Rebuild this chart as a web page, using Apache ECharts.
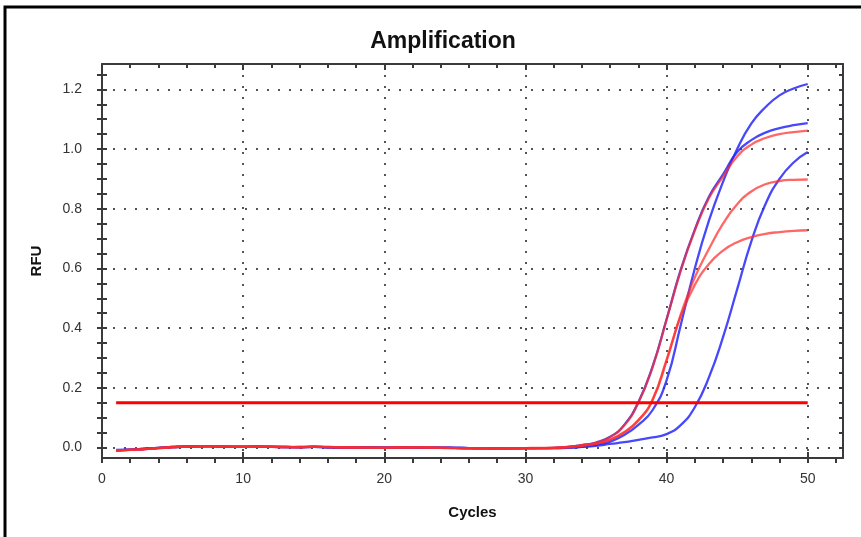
<!DOCTYPE html>
<html>
<head>
<meta charset="utf-8">
<script src="https://cdn.jsdelivr.net/npm/echarts@6/dist/echarts.min.js"></script>
<style>
html,body{margin:0;padding:0;background:#fff;}
#chart{width:861px;height:537px;}
</style>
</head>
<body>
<div id="chart"></div>
<script>
const cycles = [1,2,3,4,5,6,7,8,9,10,11,12,13,14,15,16,17,18,19,20,21,22,23,24,25,26,27,28,29,30,31,32,33,34,35,36,37,38,39,40,41,42,43,44,45,46,47,48,49,50];

const blueA = [-0.008,-0.007,-0.004,-0.001,0.002,0.003,0.005,0.004,0.003,0.003,0.003,0.002,0.002,0.001,0.002,0.001,0.001,0.000,0.000,0.000,0.001,0.000,-0.001,0.000,-0.001,-0.002,-0.002,-0.003,-0.003,-0.002,-0.002,-0.002,
  0.000,0.003,0.009,0.020,0.042,0.076,0.125,0.225,0.410,0.600,0.760,0.890,1.000,1.085,1.140,1.180,1.203,1.218];
const blueB = [-0.010,-0.008,-0.005,-0.002,0.002,0.004,0.004,0.005,0.003,0.002,0.004,0.003,0.001,0.002,0.003,0.001,0.000,0.001,0.000,-0.001,0.000,0.001,0.000,0.000,-0.001,-0.002,-0.003,-0.003,-0.002,-0.002,-0.002,-0.001,
  0.002,0.008,0.017,0.036,0.076,0.152,0.270,0.430,0.595,0.730,0.840,0.915,0.990,1.030,1.055,1.070,1.080,1.087];
const blueD = [-0.009,-0.007,-0.004,-0.001,0.001,0.003,0.004,0.004,0.002,0.002,0.003,0.002,0.002,0.001,0.002,0.001,0.000,0.000,0.001,0.000,-0.001,0.000,0.000,-0.001,-0.001,-0.002,-0.003,-0.002,-0.003,-0.002,-0.002,-0.002,
  -0.001,0.002,0.006,0.012,0.018,0.026,0.034,0.045,0.075,0.135,0.235,0.370,0.530,0.690,0.815,0.900,0.955,0.990];
const redC = [-0.011,-0.008,-0.006,-0.002,0.001,0.003,0.005,0.005,0.004,0.002,0.003,0.003,0.002,0.002,0.002,0.002,0.001,0.001,0.000,-0.001,0.000,0.000,0.001,-0.001,-0.002,-0.002,-0.002,-0.003,-0.002,-0.003,-0.002,-0.001,
  0.002,0.008,0.016,0.035,0.074,0.150,0.268,0.428,0.592,0.727,0.835,0.908,0.975,1.015,1.037,1.050,1.057,1.062];
const redE = [-0.009,-0.008,-0.005,-0.001,0.002,0.004,0.004,0.004,0.003,0.003,0.004,0.002,0.001,0.001,0.003,0.001,0.000,0.000,0.000,0.000,0.001,0.000,0.000,0.000,-0.002,-0.002,-0.002,-0.003,-0.003,-0.002,-0.001,-0.001,
  0.001,0.006,0.013,0.026,0.050,0.090,0.158,0.290,0.445,0.570,0.665,0.750,0.815,0.858,0.882,0.893,0.897,0.898];
const redF = [-0.010,-0.007,-0.005,-0.002,0.001,0.003,0.004,0.005,0.003,0.002,0.003,0.003,0.002,0.001,0.002,0.002,0.001,0.000,0.000,-0.001,0.000,0.001,0.000,-0.001,-0.001,-0.003,-0.002,-0.003,-0.002,-0.002,-0.002,-0.001,
  0.001,0.006,0.013,0.027,0.052,0.092,0.160,0.295,0.440,0.545,0.615,0.660,0.688,0.705,0.716,0.722,0.726,0.728];

const thresholdCycles = [1, 50];
const thresholdValue = 0.15;

const xMajorTicks = [0,10,20,30,40,50];
const xMinorTicks = [0,2,4,6,8,10,12,14,16,18,20,22,24,26,28,30,32,34,36,38,40,42,44,46,48,50,52];
const yMajorTicks = [0,0.2,0.4,0.6,0.8,1.0,1.2];
const yMinorTicks = [0,0.05,0.1,0.15,0.2,0.25,0.3,0.35,0.4,0.45,0.5,0.55,0.6,0.65,0.7,0.75,0.8,0.85,0.9,0.95,1.0,1.05,1.1,1.15,1.2,1.25];

const X_MIN = 0, X_MAX = 52.5, Y_MIN = -0.035, Y_MAX = 1.285;
const FONT = 'Arial, "Liberation Sans", sans-serif';
const AXIS_COL = '#3a3a3a';

function pairs(vals){ return cycles.map((c,i)=>[c, vals[i]]); }

function xAx(o){
  return Object.assign({
    type:'value', min:X_MIN, max:X_MAX, position:'bottom',
    axisLine:{show:false, onZero:false, lineStyle:{color:AXIS_COL,width:2}},
    axisTick:{show:false}, axisLabel:{show:false}, splitLine:{show:false}
  }, o);
}
function yAx(o){
  return Object.assign({
    type:'value', min:Y_MIN, max:Y_MAX, position:'left',
    axisLine:{show:false, onZero:false, lineStyle:{color:AXIS_COL,width:2}},
    axisTick:{show:false}, axisLabel:{show:false}, splitLine:{show:false}
  }, o);
}

const blueStyle = {color:'rgba(40,40,250,0.85)', width:2.3};
const redStyle = {color:'rgba(255,45,45,0.72)', width:2.3};

function curve(name, vals, style){
  return {name, type:'line', data:pairs(vals), xAxisIndex:0, yAxisIndex:0,
    showSymbol:false, smooth:true, lineStyle:style,
    itemStyle:{color:style.color}, z:3, silent:true};
}

const chart = echarts.init(document.getElementById('chart'), null, {renderer:'canvas'});
chart.setOption({
  animation:false,
  backgroundColor:'#fff',
  title:{text:'Amplification', left:438, top:25, textAlign:'center',
    textStyle:{fontFamily:FONT, fontSize:23, fontWeight:'bold', color:'#111'}},
  grid:{left:102, right:18, top:64, bottom:79, containLabel:false},
  graphic:[{type:'polyline', shape:{points:[[5,545],[5,7],[870,7]]},
    style:{stroke:'#000', lineWidth:3, fill:null}, z:100}],
  xAxis:[
    xAx({position:'bottom',
      axisLine:{show:true,onZero:false,lineStyle:{color:AXIS_COL,width:2}},
      axisTick:{show:true, inside:false, length:5, customValues:xMinorTicks, lineStyle:{color:AXIS_COL,width:2}},
      axisLabel:{show:true, customValues:xMajorTicks, margin:14, fontFamily:FONT, fontSize:14, color:'#333',
        formatter:v=>String(v)},
      name:'Cycles', nameLocation:'middle', nameGap:47,
      nameTextStyle:{fontFamily:FONT, fontSize:15, fontWeight:'bold', color:'#111'}}),
    xAx({position:'bottom',
      axisTick:{show:true, inside:true, length:6, customValues:xMajorTicks, lineStyle:{color:AXIS_COL,width:2}},
      splitLine:{show:true, lineStyle:{color:'#555', width:2, type:[2,9]}}}),
    xAx({position:'top',
      axisLine:{show:true,onZero:false,lineStyle:{color:AXIS_COL,width:2}},
      axisTick:{show:true, inside:true, length:4, customValues:xMinorTicks, lineStyle:{color:AXIS_COL,width:2}}}),
    xAx({position:'top',
      axisTick:{show:true, inside:true, length:6, customValues:xMajorTicks, lineStyle:{color:AXIS_COL,width:2}}})
  ],
  yAxis:[
    yAx({position:'left',
      axisLine:{show:true,onZero:false,lineStyle:{color:AXIS_COL,width:2}},
      axisTick:{show:true, inside:false, length:5, customValues:yMinorTicks, lineStyle:{color:AXIS_COL,width:2}},
      axisLabel:{show:true, customValues:yMajorTicks, margin:20, fontFamily:FONT, fontSize:14, color:'#333',
        formatter:v=>Number(v).toFixed(1)},
      name:'RFU', nameLocation:'middle', nameGap:58, nameRotate:90,
      nameTextStyle:{fontFamily:FONT, fontSize:15, fontWeight:'bold', color:'#111'}}),
    yAx({position:'left',
      axisTick:{show:true, inside:true, length:5, customValues:yMinorTicks, lineStyle:{color:AXIS_COL,width:2}}}),
    yAx({position:'left',
      axisTick:{show:false, customValues:yMajorTicks},
      splitLine:{show:true, lineStyle:{color:'#555', width:2, type:[2,9]}}}),
    yAx({position:'right',
      axisLine:{show:true,onZero:false,lineStyle:{color:AXIS_COL,width:2}},
      axisTick:{show:true, inside:true, length:4, customValues:yMinorTicks, lineStyle:{color:AXIS_COL,width:2}}})
  ],
  series:[
    curve('Blue A', blueA, blueStyle),
    curve('Blue B', blueB, blueStyle),
    curve('Blue D', blueD, blueStyle),
    curve('Red C', redC, redStyle),
    curve('Red E', redE, redStyle),
    curve('Red F', redF, redStyle),
    {name:'Threshold', type:'line', xAxisIndex:0, yAxisIndex:0, showSymbol:false, silent:true,
      data:thresholdCycles.map(c=>[c, thresholdValue]),
      lineStyle:{color:'#ff0000', width:3}, z:4}
  ]
});
</script>
</body>
</html>
